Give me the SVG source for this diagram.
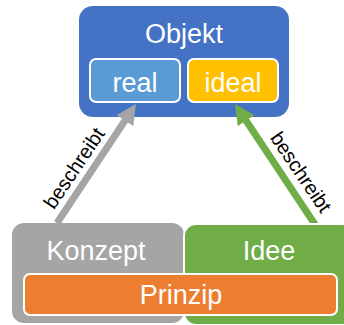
<svg xmlns="http://www.w3.org/2000/svg" width="344" height="325" viewBox="0 0 344 325">
  <style>
    .lbl { font-family: "Liberation Sans", Arial, sans-serif; font-size: 27px; fill: #ffffff; text-anchor: middle; }
    .edge { font-family: "Liberation Sans", Arial, sans-serif; font-size: 20px; fill: #000000; text-anchor: middle; }
    .inner { stroke: #ffffff; stroke-width: 2; }
  </style>
  <defs>
    <marker id="headGray" viewBox="0 0 20 20" refX="2" refY="10" markerWidth="20" markerHeight="20" markerUnits="userSpaceOnUse" orient="auto">
      <path d="M0,0 L20,10 L0,20 z" fill="#a5a5a5"/>
    </marker>
    <marker id="headGreen" viewBox="0 0 20 20" refX="2" refY="10" markerWidth="20" markerHeight="20" markerUnits="userSpaceOnUse" orient="auto">
      <path d="M0,0 L20,10 L0,20 z" fill="#70ad47"/>
    </marker>
  </defs>

  <g id="objekt">
    <rect x="79" y="6" width="210" height="111" rx="14" fill="#4472c4"/>
    <text class="lbl" x="184" y="43">Objekt</text>
  </g>
  <g id="real">
    <rect class="inner" x="90" y="59" width="90" height="43" rx="6" fill="#5b9bd5"/>
    <text class="lbl" x="135" y="92">real</text>
  </g>
  <g id="ideal">
    <rect class="inner" x="188" y="59" width="90" height="43" rx="6" fill="#ffc000"/>
    <text class="lbl" x="233" y="92">ideal</text>
  </g>

  <g id="connectors">
    <path d="M57,223 L126,119" stroke="#a5a5a5" stroke-width="7" fill="none" marker-end="url(#headGray)"/>
    <path d="M316,226 L245,119" stroke="#70ad47" stroke-width="7" fill="none" marker-end="url(#headGreen)"/>
    <text class="edge" transform="translate(74,168) rotate(-56)" dy="0.35em">beschreibt</text>
    <text class="edge" transform="translate(301,172) rotate(56)" dy="0.35em">beschreibt</text>
  </g>

  <g id="konzept">
    <rect x="12" y="223" width="172" height="100" rx="12" fill="#a5a5a5"/>
    <text class="lbl" x="96" y="260">Konzept</text>
  </g>
  <g id="idee">
    <rect x="184" y="224" width="170" height="101" rx="12" fill="#70ad47" stroke="#ffffff" stroke-width="2"/>
    <text class="lbl" x="269" y="260">Idee</text>
  </g>
  <g id="prinzip">
    <rect class="inner" x="24" y="274" width="313" height="41" rx="6" fill="#ed7d31"/>
    <text class="lbl" x="181" y="304">Prinzip</text>
  </g>
</svg>
